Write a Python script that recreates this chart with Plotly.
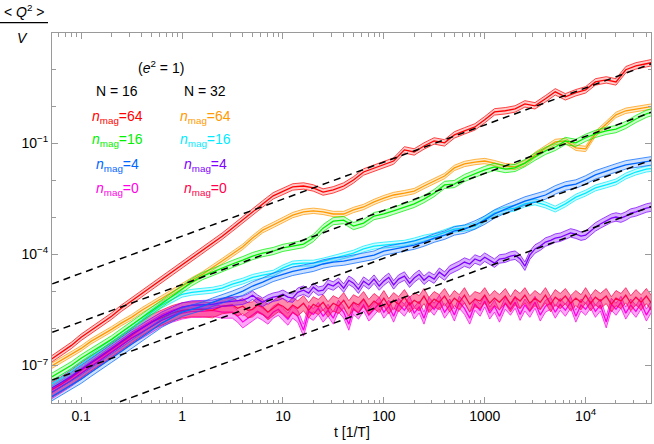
import plotly.graph_objects as go

# ---------------- data ----------------
t = [0.05, 0.063, 0.08, 0.1, 0.125, 0.16, 0.2, 0.25, 0.315, 0.4, 0.5, 0.63, 0.8,
     1, 1.25, 1.6, 2, 2.5, 3.15, 4, 5, 6.3, 8,
     10, 12.5, 16, 20, 25, 31.5, 40, 50, 63, 80,
     100, 125, 160, 200, 250, 315, 400, 500, 630, 800,
     1000, 1250, 1600, 2000, 2500, 3150, 4000, 5000, 6300, 8000,
     10000, 12500, 16000, 20000, 25000, 31500, 40000, 50000]

t_fine = [3.15, 3.55, 4, 4.5, 5, 5.6, 6.3, 7.1, 8, 9,
          10, 11.2, 12.5, 14, 16, 18, 20, 22.4, 25, 28, 31.5, 35.5, 40, 45, 50, 56, 63, 71, 80, 90,
          100, 112, 125, 140, 160, 180, 200, 224, 250, 280, 315, 355, 400, 450, 500, 560, 630, 710, 800, 900,
          1000, 1120, 1250, 1400, 1600, 1800, 2000, 2240, 2500, 2800, 3150, 3550, 4000, 4500, 5000, 5600, 6300, 7100, 8000, 9000,
          10000, 11200, 12500, 14000, 16000, 18000, 20000, 22400, 25000, 28000, 31500, 35500, 40000, 45000, 50000]
t_noisy = t[:18] + t_fine

n16_mag64 = [1.45e-7, 2.3e-7, 3.5e-7, 5.8e-7, 8.9e-7, 1.4e-6, 2.15e-6, 3.5e-6, 5.5e-6, 8.4e-6,
             1.3e-5, 2.15e-5, 3.3e-5, 5.1e-5, 7.9e-5, 1.3e-4, 2.0e-4, 3.1e-4, 5.1e-4, 8.4e-4,
             1.4e-3, 2.3e-3, 3.8e-3, 5.1e-3, 6.6e-3, 7.0e-3, 6.2e-3, 4.8e-3, 5.5e-3, 7.0e-3,
             1.02e-2, 1.67e-2, 2.15e-2, 2.6e-2, 3.3e-2, 6.6e-2, 5.8e-2, 8.4e-2, 0.115, 0.102,
             0.167, 0.215, 0.275, 0.43, 0.70, 0.75, 0.84, 1.15, 1.02, 1.58,
             2.43, 1.78, 2.3, 2.75, 4.5, 5.1, 4.5, 9.6, 12.2, 13.9, 15.8]

n32_mag64 = [9.5e-8, 1.4e-7, 2.0e-7, 2.9e-7, 4.5e-7, 6.6e-7, 9.5e-7, 1.4e-6, 2.0e-6, 3.1e-6,
             4.5e-6, 6.6e-6, 9.5e-6, 1.4e-5, 2.0e-5, 2.9e-5, 4.3e-5, 6.6e-5, 1.02e-4, 1.6e-4,
             2.75e-4, 4.5e-4, 6.2e-4, 8.4e-4, 1.15e-3, 1.4e-3, 1.5e-3, 1.4e-3, 1.23e-3, 1.23e-3,
             1.58e-3, 1.9e-3, 2.6e-3, 3.3e-3, 4.0e-3, 4.5e-3, 5.1e-3, 7.0e-3, 9.5e-3, 1.3e-2,
             2.15e-2, 2.75e-2, 3.1e-2, 3.3e-2, 2.9e-2, 2.4e-2, 2.3e-2, 2.9e-2, 4.8e-2, 7.5e-2,
             0.108, 0.115, 7.5e-2, 7.0e-2, 0.178, 0.33, 0.58, 0.75, 0.84, 0.95, 1.02]

n16_mag16 = [4.8e-8, 7.0e-8, 1.02e-7, 1.58e-7, 2.3e-7, 3.5e-7, 5.1e-7, 7.9e-7, 1.23e-6, 1.9e-6,
             2.9e-6, 4.5e-6, 7.5e-6, 1.15e-5, 1.78e-5, 2.6e-5, 3.3e-5, 4.3e-5, 5.5e-5, 7.0e-5,
             9.0e-5, 1.08e-4, 1.23e-4, 1.5e-4, 1.67e-4, 1.9e-4, 2.75e-4, 5.1e-4, 7.9e-4, 8.4e-4,
             5.8e-4, 7.0e-4, 1.08e-3, 1.23e-3, 1.5e-3, 1.9e-3, 2.3e-3, 3.1e-3, 4.5e-3, 7.5e-3,
             7.9e-3, 1.15e-2, 1.5e-2, 1.9e-2, 2.3e-2, 2.0e-2, 2.15e-2, 2.9e-2, 4.3e-2, 6.2e-2,
             7.9e-2, 0.115, 0.102, 0.14, 0.178, 0.215, 0.24, 0.31, 0.45, 0.62, 0.75]

n32_mag16 = [3.1e-8, 4.5e-8, 7.0e-8, 1.08e-7, 1.67e-7, 2.6e-7, 4.0e-7, 6.2e-7, 1.02e-6, 1.67e-6,
             2.75e-6, 4.3e-6, 6.2e-6, 8.4e-6, 9.5e-6, 1.02e-5, 1.08e-5, 1.23e-5, 1.58e-5, 1.9e-5,
             2.4e-5, 2.75e-5, 3.1e-5, 4.3e-5, 5.5e-5, 5.8e-5, 5.8e-5, 6.6e-5, 7.9e-5, 9.5e-5,
             1.08e-4, 1.4e-4, 1.67e-4, 1.78e-4, 1.9e-4, 2.0e-4, 2.3e-4, 2.75e-4, 3.1e-4, 3.8e-4,
             4.8e-4, 5.1e-4, 5.8e-4, 9.0e-4, 1.3e-3, 1.58e-3, 1.78e-3, 2.3e-3, 2.6e-3, 2.15e-3,
             1.67e-3, 2.3e-3, 3.5e-3, 4.5e-3, 6.2e-3, 7.5e-3, 9.0e-3, 1.3e-2, 1.67e-2, 2.0e-2, 2.15e-2]

n16_mag4 = [1.4e-8, 2.0e-8, 2.9e-8, 4.3e-8, 6.6e-8, 1.02e-7, 1.58e-7, 2.4e-7, 3.8e-7, 5.8e-7,
            9.0e-7, 1.4e-6, 2.0e-6, 2.75e-6, 3.3e-6, 4.0e-6, 5.1e-6, 6.2e-6, 7.9e-6, 1.02e-5,
            1.4e-5, 1.78e-5, 2.4e-5, 2.9e-5, 3.5e-5, 4.0e-5, 4.5e-5, 5.5e-5, 6.2e-5, 6.6e-5,
            7.5e-5, 8.4e-5, 9.5e-5, 1.23e-4, 1.4e-4, 1.58e-4, 1.78e-4, 2.15e-4, 2.75e-4, 3.3e-4,
            4.3e-4, 4.8e-4, 6.2e-4, 8.4e-4, 1.23e-3, 1.67e-3, 2.15e-3, 2.75e-3, 3.3e-3, 4.0e-3,
            5.5e-3, 7.0e-3, 7.9e-3, 1.02e-2, 1.4e-2, 1.78e-2, 2.15e-2, 2.6e-2, 2.9e-2, 3.3e-2, 3.5e-2]

n32_mag4 = [2.4e-8, 3.5e-8, 5.1e-8, 7.9e-8, 1.23e-7, 1.9e-7, 2.9e-7, 4.5e-7, 7.0e-7, 1.02e-6,
            1.5e-6, 2.15e-6, 2.9e-6, 3.8e-6, 4.3e-6, 4.3e-6, 4.5e-6, 5.1e-6,
            5.5e-6, 5.8e-6, 5.8e-6, 6.6e-6, 7.9e-6, 6.2e-6, 5.1e-6, 6.2e-6, 7.0e-6, 7.5e-6,
            8.4e-6, 7.0e-6, 6.6e-6, 9.5e-6, 1.08e-5, 9.0e-6, 1.3e-5, 1.02e-5, 1.08e-5, 1.58e-5,
            1.4e-5, 1.78e-5, 1.23e-5, 2.0e-5, 1.67e-5, 1.15e-5, 1.9e-5, 1.5e-5, 2.15e-5, 1.4e-5,
            1.9e-5, 2.4e-5, 1.5e-5, 2.15e-5, 2.6e-5, 1.67e-5, 2.3e-5, 2.9e-5, 2.0e-5, 2.6e-5,
            2.15e-5, 3.3e-5, 2.6e-5, 3.8e-5, 4.3e-5, 5.1e-5, 6.2e-5, 5.5e-5, 7.5e-5, 6.6e-5,
            8.4e-5, 7.0e-5, 5.8e-5, 7.5e-5, 7.9e-5, 9.0e-5, 9.5e-5, 7.5e-5, 4.8e-5, 9.5e-5,
            1.4e-4, 1.67e-4, 2.15e-4, 2.4e-4, 2.75e-4, 2.9e-4, 3.3e-4, 3.8e-4, 3.5e-4, 3.1e-4,
            3.3e-4, 4.3e-4, 5.5e-4, 6.6e-4, 7.9e-4, 9.5e-4, 1.02e-3, 9.5e-4, 1.08e-3, 1.3e-3,
            1.4e-3, 1.58e-3, 1.78e-3, 1.9e-3, 2.0e-3]

n16_mag0 = [1.78e-8, 2.6e-8, 4.0e-8, 6.2e-8, 9.5e-8, 1.5e-7, 2.3e-7, 3.5e-7, 5.5e-7, 7.9e-7,
            1.15e-6, 1.67e-6, 2.15e-6, 2.6e-6, 2.9e-6, 2.9e-6, 3.1e-6, 2.75e-6,
            2.75e-6, 2.15e-6, 1.5e-6, 1.9e-6, 2.4e-6, 2.9e-6, 2.4e-6, 1.9e-6, 2.75e-6, 3.3e-6,
            2.4e-6, 1.78e-6, 2.75e-6, 2.15e-6, 9.0e-7, 2.9e-6, 2.4e-6, 3.5e-6, 2.15e-6, 3.1e-6,
            1.9e-6, 4.0e-6, 2.75e-6, 1.3e-6, 3.5e-6, 2.6e-6, 4.3e-6, 2.3e-6, 3.3e-6, 4.8e-6,
            2.75e-6, 4.0e-6, 2.15e-6, 4.5e-6, 3.1e-6, 5.1e-6, 2.6e-6, 3.8e-6, 1.9e-6, 4.8e-6,
            3.3e-6, 5.5e-6, 2.75e-6, 4.3e-6, 2.3e-6, 5.1e-6, 3.5e-6, 1.9e-6, 4.5e-6, 3.1e-6,
            5.5e-6, 2.6e-6, 4.0e-6, 2.15e-6, 4.8e-6, 3.3e-6, 5.1e-6, 2.4e-6, 4.3e-6, 2.9e-6,
            5.1e-6, 2.3e-6, 4.0e-6, 4.8e-6, 2.75e-6, 4.5e-6, 3.1e-6, 5.1e-6, 2.15e-6, 4.3e-6,
            3.3e-6, 5.1e-6, 2.9e-6, 4.3e-6, 1.5e-6, 4.5e-6, 3.3e-6, 5.1e-6, 2.6e-6, 4.3e-6,
            2.9e-6, 4.8e-6, 2.3e-6, 4.0e-6, 3.3e-6]

n32_mag0 = [2.15e-8, 3.1e-8, 4.8e-8, 7.5e-8, 1.15e-7, 1.78e-7, 2.75e-7, 4.3e-7, 6.6e-7, 1.02e-6,
            1.5e-6, 2.0e-6, 2.6e-6, 3.1e-6, 3.3e-6, 3.3e-6, 3.1e-6, 4.0e-6,
            4.3e-6, 3.5e-6, 4.0e-6, 3.1e-6, 3.3e-6, 4.3e-6, 3.8e-6, 2.75e-6, 3.5e-6, 4.5e-6,
            4.0e-6, 3.1e-6, 4.3e-6, 3.5e-6, 4.8e-6, 3.1e-6, 4.5e-6, 3.8e-6, 5.1e-6, 3.3e-6,
            4.8e-6, 4.0e-6, 5.8e-6, 3.5e-6, 5.1e-6, 4.3e-6, 6.2e-6, 3.8e-6, 5.5e-6, 4.3e-6,
            6.6e-6, 4.0e-6, 5.8e-6, 4.5e-6, 7.0e-6, 4.3e-6, 5.8e-6, 4.8e-6, 7.5e-6, 4.3e-6,
            6.2e-6, 5.1e-6, 7.5e-6, 4.5e-6, 6.6e-6, 5.1e-6, 7.9e-6, 4.5e-6, 6.2e-6, 5.5e-6,
            7.9e-6, 4.8e-6, 6.6e-6, 5.1e-6, 7.5e-6, 4.5e-6, 7.0e-6, 5.5e-6, 7.9e-6, 4.8e-6,
            6.6e-6, 5.1e-6, 7.9e-6, 4.5e-6, 7.0e-6, 5.5e-6, 7.5e-6, 4.8e-6, 6.6e-6, 5.1e-6,
            7.9e-6, 4.8e-6, 7.0e-6, 5.5e-6, 7.5e-6, 4.5e-6, 6.6e-6, 5.5e-6, 7.9e-6, 4.8e-6,
            7.0e-6, 5.1e-6, 7.5e-6, 4.8e-6, 6.2e-6]

# relative statistical error (band half-width, as a factor)
rel_err = {"n16_mag64": 0.22, "n32_mag64": 0.18, "n16_mag16": 0.25, "n32_mag16": 0.2,
           "n16_mag4": 0.3, "n32_mag4": 0.3, "n16_mag0": 0.45, "n32_mag0": 0.6}

# dashed linear-growth guides  <Q^2>/V = c * t
guide_coef = [3.1e-4, 1.53e-5, 7.85e-7, 4.37e-8]
guide_t = [0.04, 60000]

x_tickvals = [0.1, 1, 10, 100, 1000, 10000]
x_ticktext = ["0.1", "1", "10", "100", "1000", "10<sup>4</sup>"]
y_tickvals = [1e-7, 1e-4, 1e-1]
y_ticktext = ["10<sup>\u22127</sup>", "10<sup>\u22124</sup>", "10<sup>\u22121</sup>"]

# ---------------- styling ----------------
colors = {"n16_mag64": (255, 0, 0), "n32_mag64": (255, 153, 0),
          "n16_mag16": (0, 240, 0), "n32_mag16": (0, 235, 255),
          "n16_mag4": (0, 102, 255), "n32_mag4": (127, 0, 255),
          "n16_mag0": (255, 0, 230), "n32_mag0": (255, 0, 76)}
fill_alpha = {"n16_mag0": 0.35, "n32_mag0": 0.45, "n32_mag4": 0.3}

series = [("n16_mag0", t_noisy, n16_mag0), ("n32_mag0", t_noisy, n32_mag0),
          ("n32_mag4", t_noisy, n32_mag4), ("n32_mag16", t, n32_mag16),
          ("n16_mag4", t, n16_mag4), ("n32_mag64", t, n32_mag64),
          ("n16_mag16", t, n16_mag16), ("n16_mag64", t, n16_mag64)]


def rgba(c, a):
    return "rgba(%d,%d,%d,%.2f)" % (c[0], c[1], c[2], a)


fig = go.Figure()
for key, tx, vals in series:
    c = colors[key]
    e = rel_err[key]
    fa = fill_alpha.get(key, 0.2)
    up = [v * (1 + e) for v in vals]
    lo = [v / (1 + e) for v in vals]
    fig.add_trace(go.Scatter(x=tx, y=up, mode="lines", line=dict(color=rgba(c, 0.8), width=0.9),
                             hoverinfo="skip", showlegend=False))
    fig.add_trace(go.Scatter(x=tx, y=lo, mode="lines", fill="tonexty", fillcolor=rgba(c, fa),
                             line=dict(color=rgba(c, 0.8), width=0.9), hoverinfo="skip", showlegend=False))
    fig.add_trace(go.Scatter(x=tx, y=vals, mode="lines", line=dict(color=rgba(c, 1), width=1.3),
                             showlegend=False))

for cf in guide_coef:
    fig.add_trace(go.Scatter(x=guide_t, y=[cf * tt for tt in guide_t], mode="lines",
                             line=dict(color="black", width=1.5, dash="7px,5px"), showlegend=False))

FONT = "Liberation Sans, Arial, sans-serif"
x_minor = [m * 10 ** k for k in range(-2, 5) for m in range(2, 10)]
y_minor = [10.0 ** k for k in range(-8, 2)]

axis_common = dict(type="log", showgrid=False, zeroline=False, showline=True, linecolor="#9a9a9a",
                   linewidth=1, mirror="allticks", ticks="inside", tickcolor="#9a9a9a", ticklen=6,
                   tickwidth=1, automargin=False, tickfont=dict(family=FONT, size=14, color="black"))

fig.update_xaxes(range=[-1.289, 4.648], tickmode="array", tickvals=x_tickvals, ticktext=x_ticktext,
                 minor=dict(tickmode="array", tickvals=x_minor, ticks="inside", ticklen=3.5,
                            tickcolor="#9a9a9a", tickwidth=1, showgrid=False),
                 **axis_common)
fig.update_yaxes(range=[-8.01, 1.973], tickmode="array", tickvals=y_tickvals, ticktext=y_ticktext,
                 minor=dict(tickmode="array", tickvals=y_minor, ticks="inside", ticklen=3.5,
                            tickcolor="#9a9a9a", tickwidth=1, showgrid=False),
                 **axis_common)

PW, PH, L, B = 599.0, 370.0, 52.0, 41.0


def px(xp):
    return (xp - L) / PW


def py(yp):
    return (444 - B - yp) / PH


ann = []


def label(text, xp, yp, color="black", size=14):
    ann.append(dict(text=text, x=px(xp), y=py(yp), xref="paper", yref="paper", showarrow=False,
                    xanchor="center", yanchor="middle", font=dict(family=FONT, size=size, color=color)))


label("&lt; <i>Q</i><sup>2</sup> &gt;", 24, 11)
label("<i>V</i>", 22, 38)
label("t [1/T]", 352, 432)
label("(<i>e</i><sup>2</sup> = 1)", 161, 67)
label("N = 16", 117, 91)
label("N = 32", 205, 91)
left_rows = [("n16_mag64", "64"), ("n16_mag16", "16"), ("n16_mag4", "4"), ("n16_mag0", "0")]
right_rows = [("n32_mag64", "64"), ("n32_mag16", "16"), ("n32_mag4", "4"), ("n32_mag0", "0")]
row_y = [117, 140, 164.5, 188.5]
for (k, v), yy in zip(left_rows, row_y):
    label("<i>n</i><sub>mag</sub>=" + v, 117, yy, color=rgba(colors[k], 1))
for (k, v), yy in zip(right_rows, row_y):
    label("<i>n</i><sub>mag</sub>=" + v, 205, yy, color=rgba(colors[k], 1))

fig.update_layout(width=654, height=444, margin=dict(l=52, r=3, t=33, b=41),
                  plot_bgcolor="white", paper_bgcolor="white", annotations=ann,
                  shapes=[dict(type="line", xref="paper", yref="paper", x0=px(0), x1=px(48),
                               y0=py(22.7), y1=py(22.7), line=dict(color="black", width=1.2))],
                  showlegend=False)

fig.write_html("out.html", config={"displayModeBar": False},
               post_script="document.body.style.margin='0px';")
